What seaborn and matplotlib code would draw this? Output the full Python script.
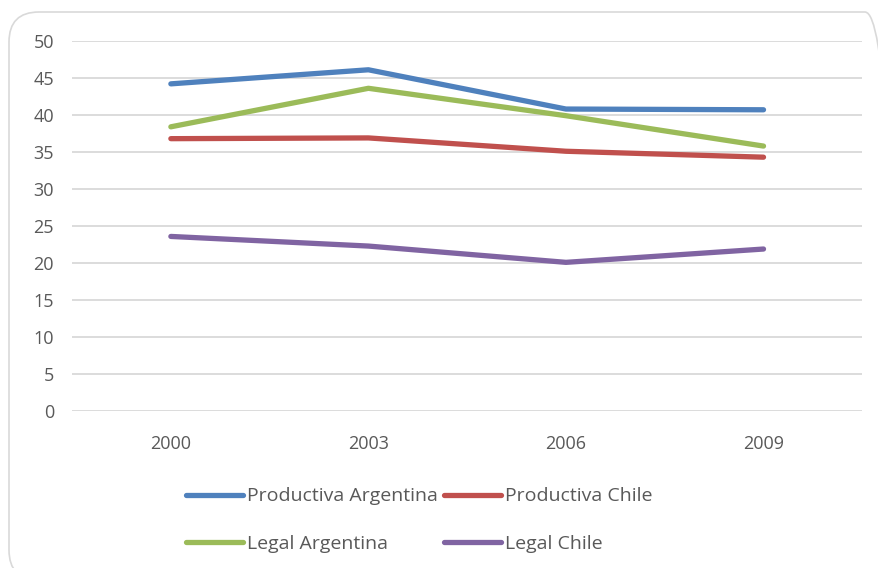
import pandas as pd
import seaborn as sns
import matplotlib.pyplot as plt
from matplotlib.patches import FancyBboxPatch
from matplotlib.transforms import IdentityTransform

# ── Data ──────────────────────────────────────────────────────────────────────
years = ["2000", "2003", "2006", "2009"]
productiva_argentina = [44.2, 46.1, 40.8, 40.7]
productiva_chile     = [36.8, 36.9, 35.1, 34.3]
legal_argentina      = [38.4, 43.6, 39.9, 35.8]
legal_chile          = [23.6, 22.3, 20.1, 21.9]

series_names = ["Productiva Argentina", "Legal Argentina", "Productiva Chile", "Legal Chile"]
series_vals  = [productiva_argentina, legal_argentina, productiva_chile, legal_chile]
colors = {
    "Productiva Argentina": "#4F81BD",
    "Productiva Chile":     "#C0504D",
    "Legal Argentina":      "#9BBB59",
    "Legal Chile":          "#8064A2",
}

df = pd.DataFrame([
    {"year": y, "value": v, "serie": name}
    for name, vals in zip(series_names, series_vals)
    for y, v in zip(years, vals)
])

# ── Plot ──────────────────────────────────────────────────────────────────────
sns.set_theme(style="white")
plt.rcParams["font.family"] = ["Open Sans", "DejaVu Sans"]

fig = plt.figure(figsize=(8.79, 5.68), dpi=100)
ax = fig.add_axes([0.082, 0.276, 0.899, 0.652])

sns.lineplot(data=df, x="year", y="value", hue="serie", hue_order=series_names,
             palette=colors, linewidth=3.8, sort=False, ax=ax, legend=False)
for line in ax.get_lines():
    line.set_solid_capstyle("round")
    line.set_solid_joinstyle("round")

ax.set_ylim(0, 50)
ax.set_yticks(range(0, 51, 5))
ax.set_xlim(-0.5, 3.5)
ax.yaxis.grid(True, color="#D9D9D9", linewidth=1.3)
ax.set_axisbelow(True)
for s in ax.spines.values():
    s.set_visible(False)
ax.tick_params(axis="both", length=0, labelsize=13, labelcolor="#595959")
ax.tick_params(axis="y", pad=13)
ax.tick_params(axis="x", pad=17)
ax.set_xlabel("")
ax.set_ylabel("")

handles = [plt.Line2D([], [], color=colors[n], linewidth=3.8, solid_capstyle="round")
           for n in series_names]
fig.legend(handles, series_names, ncol=2, loc="upper left",
           bbox_to_anchor=(0.212, 0.142), frameon=False, fontsize=14,
           labelcolor="#595959", handlelength=2.9, handletextpad=0.2,
           columnspacing=0.35, labelspacing=1.5, borderaxespad=0, borderpad=0)

# rounded chart frame (runs past the right and bottom edges, as in the original)
fig.patches.append(FancyBboxPatch((9, -12), 886, 568,
                                  boxstyle="round,pad=0,rounding_size=30",
                                  transform=IdentityTransform(), fill=False,
                                  edgecolor="#D9D9D9", linewidth=1.2))

fig.savefig("out.png", dpi=100)
